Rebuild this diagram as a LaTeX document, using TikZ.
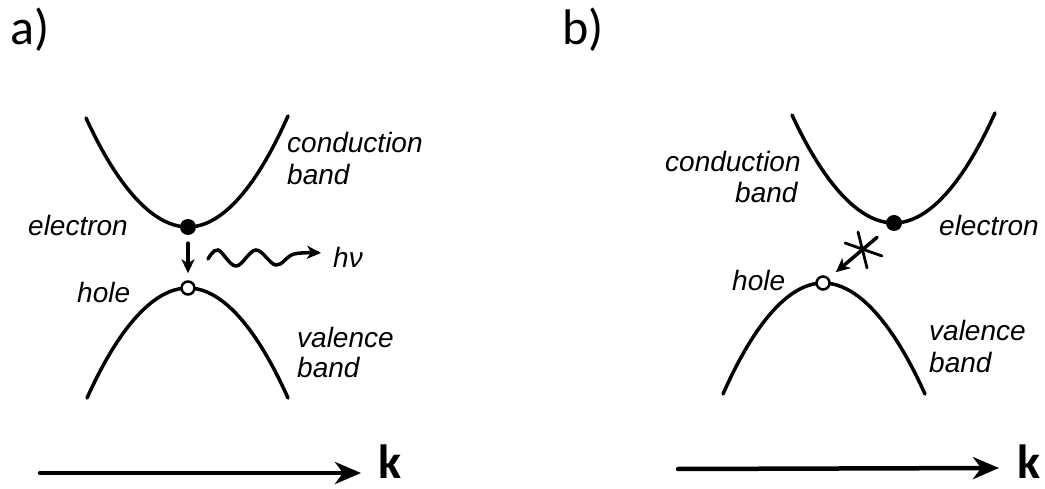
\documentclass[tikz,border=0pt]{standalone}
\usepackage{fontspec}
\usetikzlibrary{arrows.meta}
\newfontfamily\labfont{Liberation Sans}
\newfontfamily\carlfont{Carlito}
\tikzset{
 band/.style={line width=3.5pt, line cap=round},
 lab/.style={font=\labfont\itshape\fontsize{28}{30}\selectfont, inner sep=0pt, anchor=west},
 panel/.style={font=\carlfont\fontsize{50}{55}\selectfont, inner sep=0pt, anchor=west},
 klab/.style={font=\carlfont\bfseries\fontsize{48}{52}\selectfont, inner sep=0pt, anchor=west},
 edot/.style={circle, fill=black, minimum size=16pt, inner sep=0pt},
 hdot/.style={circle, draw=black, fill=white, line width=2.5pt, minimum size=13pt, inner sep=0pt},
 trans/.style={line width=3.5pt, line cap=round, -{Stealth[length=14pt,width=13pt,inset=4pt]}},
 axis/.style={line width=4.5pt, line cap=round, -{Stealth[length=26pt,width=22pt,inset=8pt]}},
 cross/.style={line width=2.8pt, line cap=round},
}
\begin{document}
\begin{tikzpicture}[x=1pt,y=-1pt]
\useasboundingbox (0,0) rectangle (1045,489);
% panel labels
\node[panel] (pa) at (10,30) {a)};
\node[panel] (pb) at (562,30) {b)};
% ---------- panel a ----------
\draw[band] (86,118) parabola bend (188,227) (288,116);
\draw[band] (87,398) parabola bend (188,288) (288,398);
\node[edot] (e1) at (188,227) {};
\node[hdot] (h1) at (188,288) {};
\draw[trans, shorten <=8pt, shorten >=7pt] (e1) -- (h1);
\draw[trans] plot[smooth, tension=0.6] coordinates {(208,259) (218,250) (236,266) (256,250) (276,265) (294,254) (321,253)};
\node[lab] (ca) at (287,143) {conduction};
\node[lab] (cba) at (287,175) {band};
\node[lab] (ela) at (28,225) {electron};
\node[lab] (hoa) at (77,292) {hole};
\node[lab] (va) at (297,337) {valence};
\node[lab] (vba) at (297,367) {band};
\node[lab] (hv) at (333,257) {hν};
\coordinate (a0) at (40,473);
\coordinate (a1) at (361,473);
\draw[axis] (a0) -- (a1);
\node[klab] (ka) at (378,462) {k};
% ---------- panel b ----------
\draw[band] (792,115) parabola bend (894,223) (995,113);
\draw[band] (723,394) parabola bend (823,283) (925,394);
\node[edot] (e2) at (894,223) {};
\node[hdot] (h2) at (823,283) {};
\draw[trans, shorten <=14pt, shorten >=9pt] (e2) -- (h2);
\draw[cross] (845,243) -- (882,256);
\draw[cross] (858,232) -- (867,268);
\node[lab] (cb) at (665,162) {conduction};
\node[lab] (cbb) at (735,193) {band};
\node[lab] (elb) at (939,225) {electron};
\node[lab] (hob) at (732,280) {hole};
\node[lab] (vb) at (929,330) {valence};
\node[lab] (vbb) at (929,362) {band};
\coordinate (b0) at (678,469);
\coordinate (b1) at (999,468);
\draw[axis] (b0) -- (b1);
\node[klab] (kb) at (1017,462) {k};
\end{tikzpicture}
\end{document}
